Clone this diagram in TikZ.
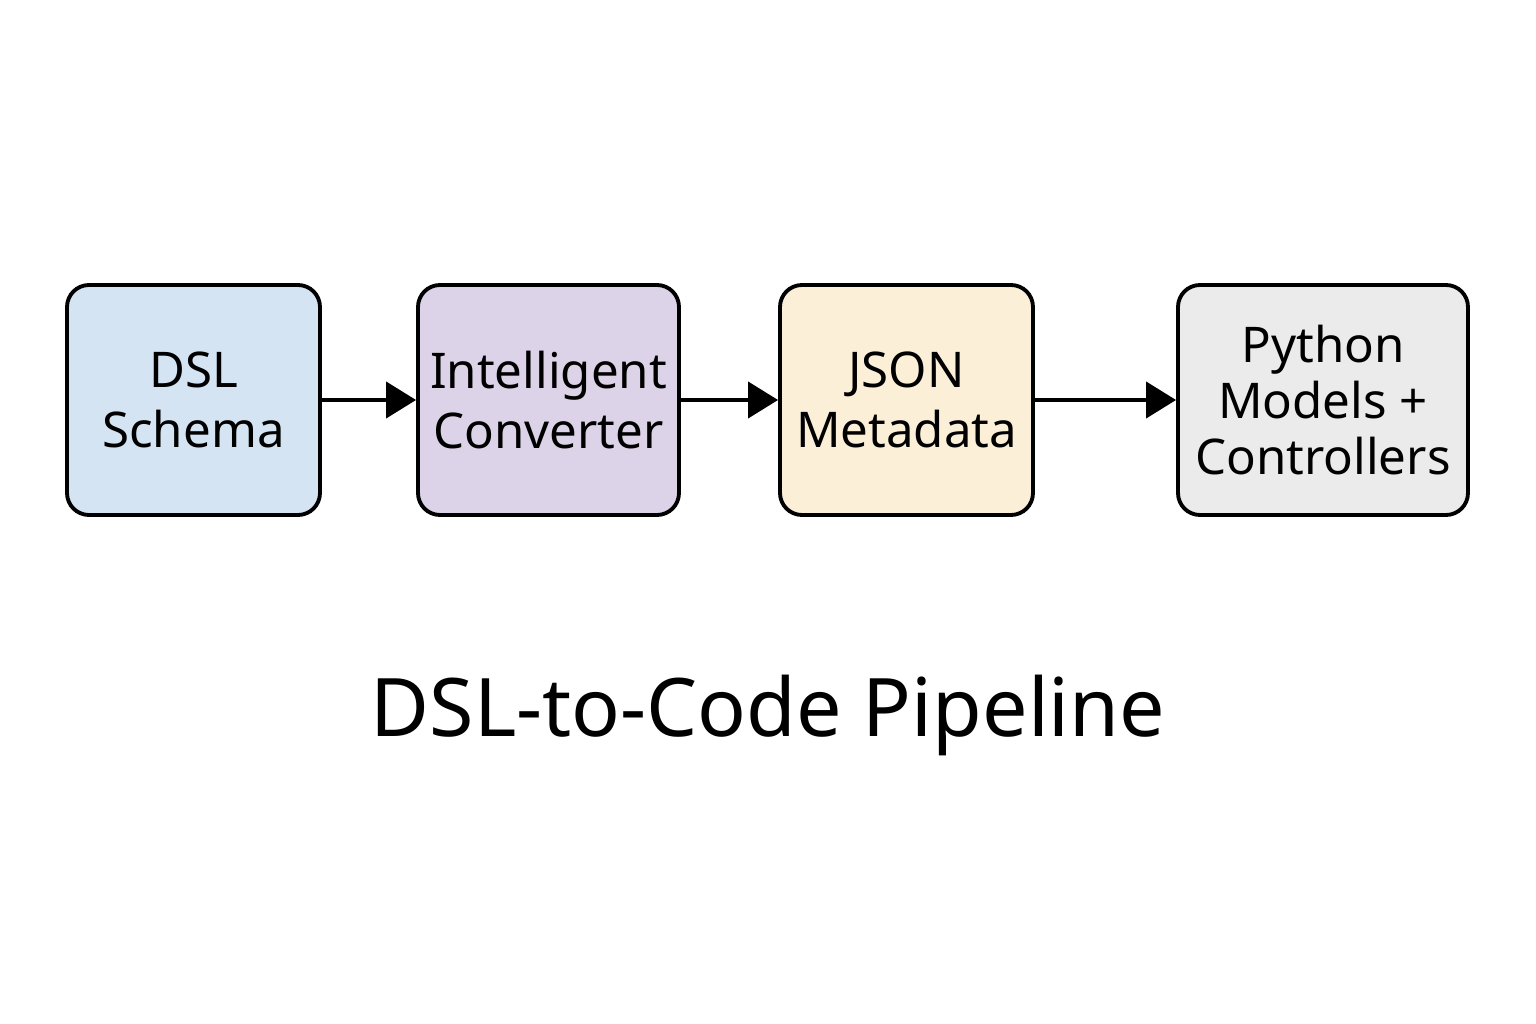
\documentclass[tikz,border=0pt]{standalone}
\usepackage{fontspec}
\setmainfont{Noto Sans}
\usetikzlibrary{arrows.meta}
\definecolor{dslblue}{HTML}{D4E4F2}
\definecolor{convpurple}{HTML}{DDD3E8}
\definecolor{jsonorange}{HTML}{FBEFD8}
\definecolor{pygrey}{HTML}{EBEBEB}
\begin{document}
\begin{tikzpicture}[x=0.1mm, y=-0.1mm,
    stage/.style={draw,line width=1.1pt,rounded corners=2.2mm,minimum height=23mm,align=center,font=\fontsize{14}{17}\selectfont,inner sep=0},
    flow/.style={line width=1.2pt,-{Triangle[length=3mm,width=3.6mm]}}]
        \useasboundingbox (0,0) rectangle (1536,1024);
        \node at (193.5,400) [stage,fill=dslblue,minimum width=25.3mm] (dsl) {DSL\\Schema};
        \node at (548.5,400) [stage,fill=convpurple,minimum width=26.1mm] (conv) {Intelligent\\Converter};
        \node at (906.5,400) [stage,fill=jsonorange,minimum width=25.3mm] (json) {JSON\\Metadata};
        \node at (1323,400) [stage,fill=pygrey,minimum width=29mm,font=\fontsize{14}{16}\selectfont] (py) {Python\\Models +\\Controllers};
        \draw[flow] (dsl.east) -- (conv.west);
        \draw[flow] (conv.east) -- (json.west);
        \draw[flow] (json.east) -- (py.west);
        \node at (768,715) [font=\fontsize{23}{28}\selectfont] (title) {DSL-to-Code Pipeline};
    \end{tikzpicture}
\end{document}
